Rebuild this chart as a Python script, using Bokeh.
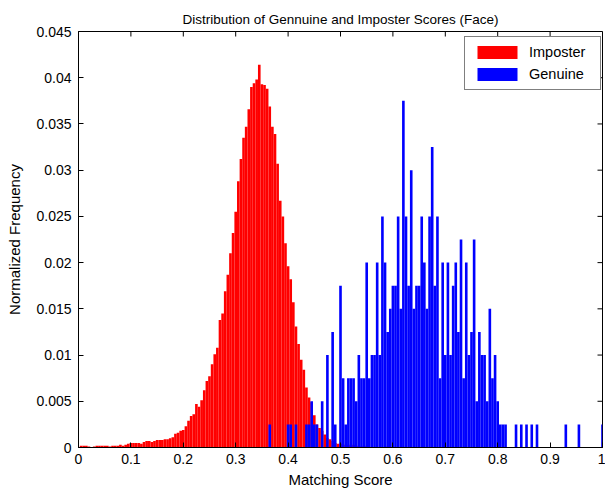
import numpy as np
from bokeh.plotting import figure
from bokeh.models import ColumnDataSource, LinearAxis, FixedTicker, Legend, LegendItem, Range1d
from bokeh.embed import file_html
from bokeh.resources import INLINE

# Histogram bins: centres every 0.005 on the matching-score axis
bin_width = 0.005
score_bins = np.round(np.arange(0, 201) * bin_width, 3)

# Imposter normalized frequency, bins 0..119 (higher bins are empty)
imposter_freq = [
    0.0, 0.0002, 0.0002, 0.0002, 0.0001, 0.0, 0.0001, 0.0002, 0.0002, 0.0002,
    0.0002, 0.0002, 0.0001, 0.0002, 0.0002, 0.0002, 0.0003, 0.0002, 0.0003, 0.0004,
    0.0005, 0.0005, 0.0005, 0.0005, 0.0004, 0.0006, 0.0007, 0.0007, 0.0006, 0.0007,
    0.0008, 0.0008, 0.0008, 0.0009, 0.0009, 0.0010, 0.0011, 0.0015, 0.0016, 0.0018,
    0.0019, 0.0023, 0.0029, 0.0034, 0.0036, 0.0047, 0.0044, 0.0051, 0.0062, 0.0072,
    0.0077, 0.0090, 0.0101, 0.0108, 0.0138, 0.0145, 0.0169, 0.0187, 0.0210, 0.0232,
    0.0255, 0.0288, 0.0312, 0.0335, 0.0347, 0.0366, 0.0390, 0.0394, 0.0398, 0.0414,
    0.0393, 0.0392, 0.0388, 0.0369, 0.0347, 0.0339, 0.0307, 0.0267, 0.0250, 0.0221,
    0.0196, 0.0182, 0.0157, 0.0131, 0.0112, 0.0095, 0.0084, 0.0065, 0.0054, 0.0049,
    0.0035, 0.0025, 0.0021, 0.0018, 0.0014, 0.0010, 0.0009, 0.0007, 0.0005, 0.0004,
    0.0004, 0.0003, 0.0003, 0.0003, 0.0002, 0.0003, 0.0002, 0.0001, 0.0001, 0.0002,
    0.0001, 0.0, 0.0, 0.0, 0.0, 0.0, 0.0, 0.0, 0.0001, 0.0,
]

# Genuine score counts, bins 70..200 (lower bins are empty)
genuine_first_bin = 70
genuine_counts = [
    0, 0, 0, 1, 0, 0, 0, 0, 0, 0,
    1, 1, 0, 1, 0, 0, 0, 1, 1, 2,
    1, 1, 0, 2, 0, 4, 0, 5, 1, 0,
    7, 3, 1, 3, 3, 3, 2, 4, 3, 3,
    8, 3, 4, 4, 8, 4, 10, 8, 5, 6,
    7, 7, 10, 6, 15, 10, 7, 12, 6, 7,
    7, 10, 8, 6, 10, 13, 7, 10, 3, 8,
    4, 8, 4, 7, 8, 5, 9, 3, 8, 4,
    5, 9, 2, 5, 4, 4, 2, 6, 3, 4,
    2, 1, 1, 1, 0, 0, 0, 1, 0, 1,
    0, 1, 0, 1, 0, 1, 0, 0, 0, 0,
    0, 0, 0, 0, 0, 0, 1, 0, 0, 0,
    0, 1, 0, 0, 0, 0, 0, 0, 0, 0, 1,
]

x_ticks = [0, 0.1, 0.2, 0.3, 0.4, 0.5, 0.6, 0.7, 0.8, 0.9, 1]
x_tick_labels = ["0", "0.1", "0.2", "0.3", "0.4", "0.5", "0.6", "0.7", "0.8", "0.9", "1"]
y_ticks = [0, 0.005, 0.01, 0.015, 0.02, 0.025, 0.03, 0.035, 0.04, 0.045]
y_tick_labels = ["0", "0.005", "0.01", "0.015", "0.02", "0.025", "0.03", "0.035", "0.04", "0.045"]

FONT = "Liberation Sans"
X_MIN, X_MAX = 0, 1
Y_MIN, Y_MAX = 0, 0.045

imp_x = [float(s) for s, f in zip(score_bins[:len(imposter_freq)], imposter_freq) if f > 0]
imp_y = [f for f in imposter_freq if f > 0]

total_genuine = sum(genuine_counts)
gen_scores = score_bins[genuine_first_bin:genuine_first_bin + len(genuine_counts)]
gen_x = [float(s) for s, c in zip(gen_scores, genuine_counts) if c > 0]
gen_y = [c / total_genuine for c in genuine_counts if c > 0]

p = figure(
    width=605, height=493,
    output_backend="svg", toolbar_location=None,
    x_range=Range1d(X_MIN, X_MAX), y_range=Range1d(Y_MIN, Y_MAX),
    min_border_left=78, min_border_right=3, min_border_top=31, min_border_bottom=46,
    x_axis_type=None, y_axis_type=None,
)
p.background_fill_color = "white"
p.border_fill_color = "white"
p.outline_line_color = "black"
p.outline_line_width = 1
p.xgrid.visible = False
p.ygrid.visible = False

p.title.text = "Distribution of Gennuine and Imposter Scores (Face)"
p.title.align = "center"
p.title.text_font = FONT
p.title.text_font_style = "normal"
p.title.text_font_size = "13.5px"
p.title.text_color = "black"

imp_src = ColumnDataSource(dict(x=imp_x, top=imp_y))
gen_src = ColumnDataSource(dict(x=gen_x, top=gen_y))
r_imp = p.vbar(x="x", top="top", bottom=0, width=bin_width, source=imp_src,
               fill_color="#ff0000", line_color=None)
r_gen = p.vbar(x="x", top="top", bottom=0, width=bin_width, source=gen_src,
               fill_color="#0000ff", line_color=None)


def style_axis(ax, ticks, labels):
    ax.ticker = FixedTicker(ticks=ticks)
    ax.major_label_overrides = {t: l for t, l in zip(ticks, labels)}
    ax.major_tick_in = 5
    ax.major_tick_out = 0
    ax.minor_tick_in = 0
    ax.minor_tick_out = 0
    ax.axis_line_color = "black"
    ax.major_tick_line_color = "black"
    ax.major_label_text_font = FONT
    ax.major_label_text_color = "black"
    ax.major_label_text_font_size = "14px"
    ax.axis_label_text_font = FONT
    ax.axis_label_text_font_style = "normal"
    ax.axis_label_text_font_size = "15px"
    ax.axis_label_text_color = "black"


xb = LinearAxis(axis_label="Matching Score")
style_axis(xb, x_ticks, x_tick_labels)
xb.major_label_standoff = 6
xb.axis_label_standoff = 4
p.add_layout(xb, "below")

yl = LinearAxis(axis_label="Normalized Frequency")
style_axis(yl, y_ticks, y_tick_labels)
yl.major_label_standoff = 7
yl.axis_label_standoff = 10
p.add_layout(yl, "left")

# Mirrored inward ticks along the top and right edges of the box
p.ray(x=x_ticks, y=[Y_MAX] * len(x_ticks), length=5, length_units="screen",
      angle=-np.pi / 2, line_color="black", line_width=1)
p.ray(x=[X_MAX] * len(y_ticks), y=y_ticks, length=5, length_units="screen",
      angle=np.pi, line_color="black", line_width=1)

legend = Legend(
    items=[LegendItem(label="Imposter", renderers=[r_imp]),
           LegendItem(label="Genuine", renderers=[r_gen])],
    location=(386, 357),
    glyph_width=50, glyph_height=16,
    label_height=16, label_width=64, label_standoff=7,
    padding=7, spacing=6, margin=0,
    border_line_color="black", border_line_width=1,
    background_fill_color="white", background_fill_alpha=1,
    label_text_font=FONT, label_text_font_size="14.5px", label_text_color="black",
)
p.add_layout(legend, "center")

open("out.html", "w").write(file_html(p, INLINE))
